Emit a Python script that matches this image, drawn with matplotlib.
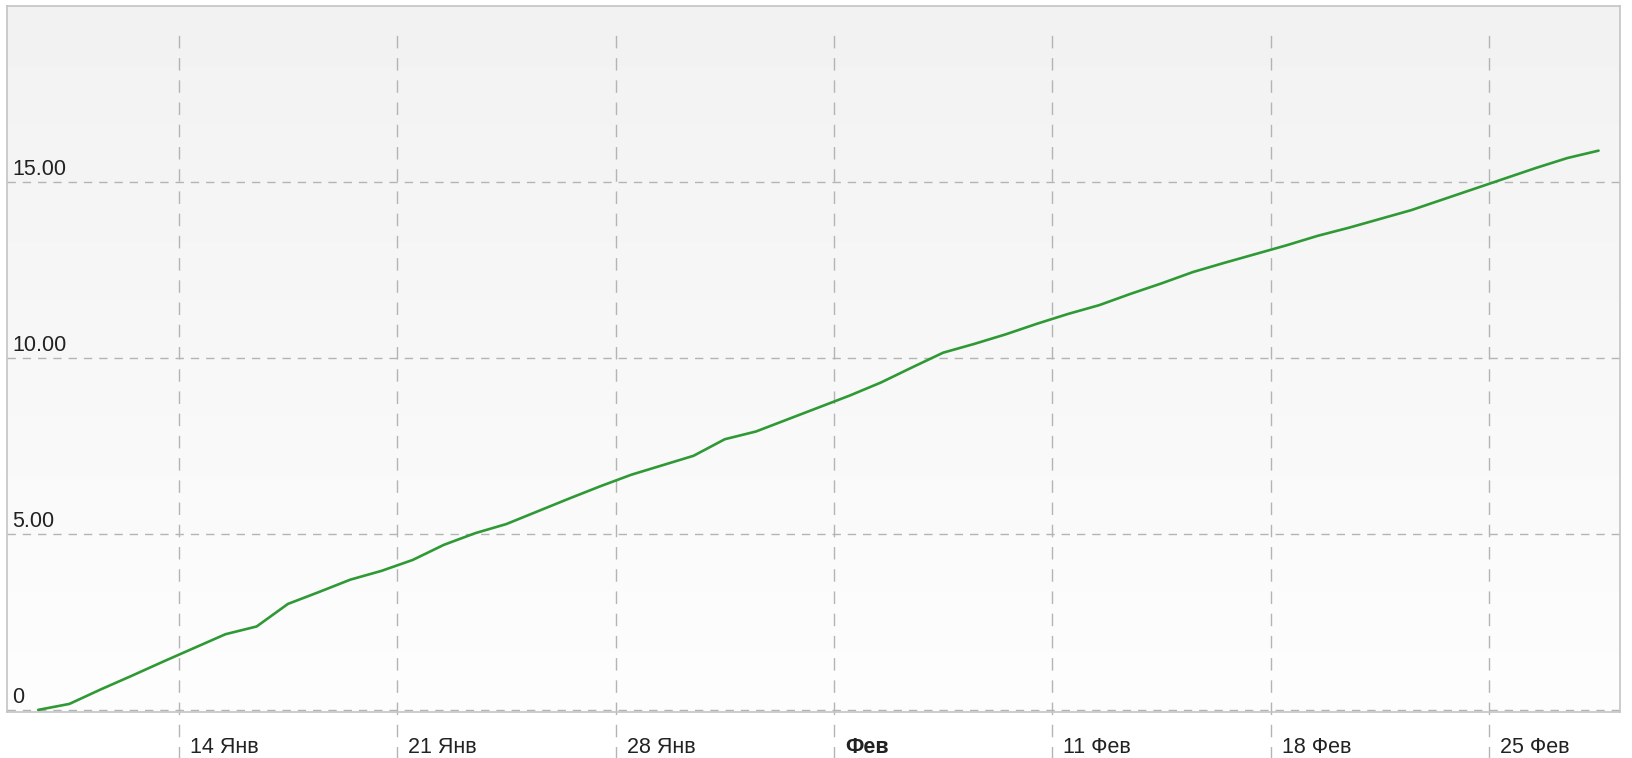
import datetime as dt
import numpy as np
import matplotlib
matplotlib.use("Agg")
import matplotlib.pyplot as plt
import matplotlib.transforms as mtransforms
from matplotlib.colors import LinearSegmentedColormap

# ---- data ----
start_date = dt.datetime(2019, 1, 9, 12)
values = [0.00, 0.17, 0.58, 0.97, 1.37, 1.76, 2.15, 2.37, 3.01, 3.35,
          3.70, 3.95, 4.26, 4.69, 5.02, 5.28, 5.64, 6.00, 6.35, 6.68,
          6.95, 7.22, 7.69, 7.91, 8.25, 8.59, 8.93, 9.30, 9.73, 10.15,
          10.40, 10.67, 10.97, 11.25, 11.50, 11.82, 12.12, 12.44, 12.70, 12.95,
          13.20, 13.47, 13.70, 13.95, 14.20, 14.50, 14.80, 15.10, 15.40, 15.68,
          15.89]
dates = [start_date + dt.timedelta(days=i) for i in range(len(values))]

xtick_dates = [dt.datetime(2019, 1, 14), dt.datetime(2019, 1, 21), dt.datetime(2019, 1, 28),
               dt.datetime(2019, 2, 4), dt.datetime(2019, 2, 11), dt.datetime(2019, 2, 18),
               dt.datetime(2019, 2, 25)]
xtick_labels = ["14 Янв", "21 Янв", "28 Янв", "Фев", "11 Фев", "18 Фев", "25 Фев"]
ytick_values = [0, 5, 10, 15]
ytick_labels = ["0", "5.00", "10.00", "15.00"]

plt.rcParams['font.family'] = ['Liberation Sans', 'DejaVu Sans']

W, H = 1633, 758
fig = plt.figure(figsize=(W / 100, H / 100), dpi=100)
fig.patch.set_facecolor('white')
ax = fig.add_axes([7 / W, (H - 712) / H, (1620 - 7) / W, (712 - 6) / H])

# background gradient
grad = np.linspace(0, 1, 256).reshape(-1, 1)
cmap = LinearSegmentedColormap.from_list('bg', ['#f2f2f2', '#fefefe'])
ax.imshow(grad, cmap=cmap, aspect='auto', extent=[0, 1, 0, 1],
          transform=ax.transAxes, zorder=0, origin='upper')

ax.plot(dates, values, color='#2f9a35', lw=1.9, zorder=3,
        solid_capstyle='round', solid_joinstyle='round')

ax.set_xlim(dt.datetime(2019, 1, 8, 12), dt.datetime(2019, 3, 1, 4, 30))
ax.set_ylim(-0.06, 20.0)

# y grid
ax.set_yticks(ytick_values)
ax.set_yticklabels(ytick_labels)
ax.yaxis.grid(True, color='#b4b4b4', linestyle=(0, (6, 5)), lw=1.0, zorder=1)
ax.tick_params(axis='y', length=0, pad=-4, labelsize=15.5, labelcolor='#222222')
for lab in ax.get_yticklabels():
    lab.set_horizontalalignment('left')
    lab.set_verticalalignment('bottom')
    lab.set_transform(lab.get_transform() + mtransforms.ScaledTranslation(0, 2 / 100, fig.dpi_scale_trans))

# x ticks and vertical dashed lines extending below the frame
ax.set_xticks(xtick_dates)
ax.set_xticklabels(xtick_labels)
ax.tick_params(axis='x', length=0, pad=18, labelsize=15.5, labelcolor='#222222')
for lab, txt in zip(ax.get_xticklabels(), xtick_labels):
    lab.set_horizontalalignment('left')
    lab.set_transform(lab.get_transform() + mtransforms.ScaledTranslation(11 / 100, 0, fig.dpi_scale_trans))
    if txt == "Фев":
        lab.set_fontweight('bold')
trans = mtransforms.blended_transform_factory(ax.transData, ax.transAxes)
for d in xtick_dates:
    ax.plot([d, d], [-0.07, 0.97], transform=trans, color='#b4b4b4',
            linestyle=(0, (9, 7)), lw=1.0, clip_on=False, zorder=1)

for sp in ax.spines.values():
    sp.set_color('#c4c4c4')
    sp.set_linewidth(1.2)

fig.savefig('out.png', dpi=100, facecolor='white')
